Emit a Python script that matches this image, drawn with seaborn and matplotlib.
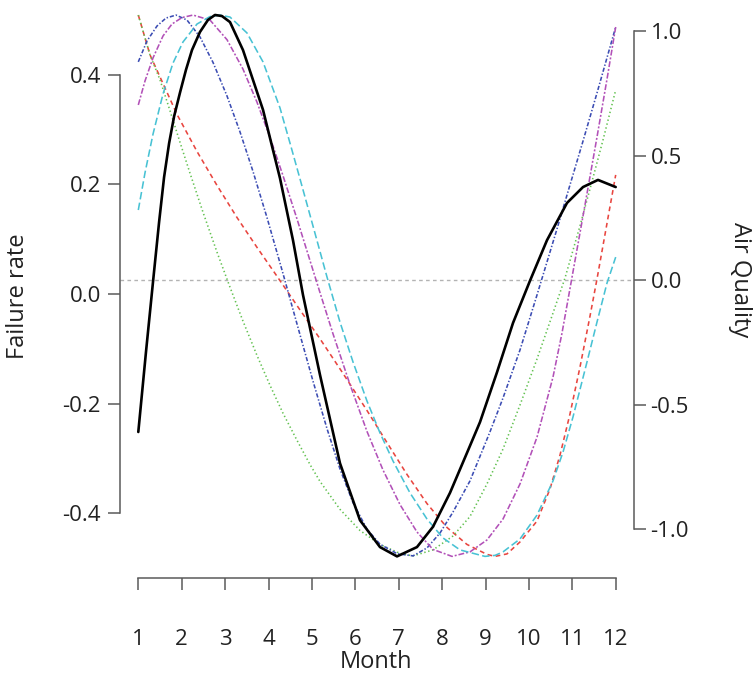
import matplotlib
matplotlib.use("Agg")
import matplotlib.pyplot as plt
import seaborn as sns
import pandas as pd

# ---------------- data ----------------
fr_month = [1.0, 1.177, 1.339, 1.479, 1.594, 1.71, 1.825, 1.963, 2.099, 2.237, 2.421, 2.606,
            2.767, 2.928, 3.113, 3.412, 3.873, 4.265, 4.564, 4.795, 5.187, 5.647, 6.108,
            6.569, 6.961, 7.421, 7.79, 8.182, 8.574, 8.873, 9.265, 9.634, 10.025, 10.417,
            10.878, 11.247, 11.592, 12.0]
failure_rate = [-0.252, -0.106, 0.022, 0.131, 0.213, 0.275, 0.324, 0.368, 0.409, 0.445, 0.478,
                0.5, 0.509, 0.507, 0.496, 0.445, 0.336, 0.211, 0.098, -0.002, -0.148, -0.309,
                -0.413, -0.462, -0.479, -0.462, -0.425, -0.363, -0.29, -0.234, -0.143, -0.053,
                0.024, 0.098, 0.166, 0.195, 0.208, 0.195]

red_month = [1.0, 1.27, 1.569, 1.892, 2.353, 2.813, 3.274, 3.735, 4.196, 4.725, 5.186, 5.716,
             6.269, 6.73, 7.191, 7.652, 8.113, 8.573, 9.034, 9.219, 9.495, 9.795, 10.187,
             10.486, 10.717, 10.947, 11.178, 11.408, 11.569, 12.0]
red_aq = [1.064, 0.904, 0.789, 0.665, 0.516, 0.38, 0.251, 0.131, 0.015, -0.12, -0.236, -0.375,
          -0.524, -0.653, -0.781, -0.898, -0.994, -1.062, -1.102, -1.11, -1.1, -1.052, -0.968,
          -0.839, -0.703, -0.538, -0.349, -0.145, 0.004, 0.422]

green_month = [1.0, 1.27, 1.5, 1.73, 1.961, 2.191, 2.491, 2.813, 3.113, 3.412, 3.735, 4.035,
               4.334, 4.657, 4.956, 5.187, 5.647, 6.108, 6.569, 7.03, 7.329, 7.79, 8.251,
               8.642, 9.034, 9.403, 9.795, 10.187, 10.555, 10.832, 11.177, 11.476, 11.707, 12.0]
green_aq = [1.064, 0.904, 0.804, 0.68, 0.553, 0.429, 0.272, 0.112, -0.029, -0.165, -0.303,
            -0.423, -0.535, -0.644, -0.741, -0.809, -0.921, -1.006, -1.062, -1.098, -1.108,
            -1.084, -1.028, -0.95, -0.819, -0.679, -0.502, -0.317, -0.133, 0.008, 0.217, 0.41,
            0.562, 0.763]

blue_month = [1.0, 1.2, 1.431, 1.638, 1.869, 2.122, 2.422, 2.721, 3.044, 3.343, 3.643, 3.965,
              4.334, 4.565, 4.795, 5.025, 5.348, 5.647, 5.947, 6.269, 6.569, 6.961, 7.329,
              7.652, 7.952, 8.251, 8.642, 9.103, 9.403, 9.795, 10.187, 10.647, 10.947, 11.247,
              11.569, 12.0]
blue_aq = [0.876, 0.96, 1.02, 1.052, 1.064, 1.044, 0.976, 0.874, 0.739, 0.595, 0.436, 0.251,
           0.026, -0.119, -0.263, -0.406, -0.597, -0.759, -0.894, -1.001, -1.061, -1.099,
           -1.108, -1.076, -1.016, -0.932, -0.807, -0.61, -0.474, -0.281, -0.06, 0.205, 0.382,
           0.558, 0.751, 1.016]

magenta_month = [1.0, 1.154, 1.339, 1.569, 1.776, 2.007, 2.26, 2.652, 3.044, 3.412, 3.735,
                 4.035, 4.334, 4.657, 4.956, 5.117, 5.256, 5.486, 5.878, 6.269, 6.638, 7.03,
                 7.421, 7.79, 8.228, 8.642, 9.034, 9.403, 9.795, 10.187, 10.555, 10.763,
                 10.982, 11.247, 11.569, 11.8, 12.0]
magenta_aq = [0.703, 0.799, 0.892, 0.98, 1.028, 1.054, 1.064, 1.044, 0.965, 0.847, 0.714, 0.573,
              0.419, 0.245, 0.078, -0.012, -0.089, -0.216, -0.42, -0.608, -0.763, -0.902,
              -1.012, -1.082, -1.11, -1.092, -1.044, -0.96, -0.819, -0.631, -0.39, -0.213, 0.0,
              0.257, 0.574, 0.807, 1.016]

cyan_month = [1.0, 1.154, 1.339, 1.569, 1.799, 2.03, 2.353, 2.652, 2.882, 3.113, 3.505, 3.873,
              4.265, 4.495, 4.726, 5.025, 5.348, 5.647, 5.947, 6.269, 6.569, 6.869, 7.26,
              7.652, 8.021, 8.412, 8.988, 9.219, 9.403, 9.795, 10.187, 10.555, 10.786, 11.016,
              11.339, 11.569, 11.8, 12.0]
cyan_aq = [0.281, 0.43, 0.586, 0.747, 0.871, 0.956, 1.028, 1.058, 1.064, 1.056, 0.992, 0.876,
           0.691, 0.55, 0.406, 0.217, 0.012, -0.169, -0.329, -0.486, -0.614, -0.727, -0.855,
           -0.96, -1.036, -1.084, -1.11, -1.106, -1.092, -1.04, -0.944, -0.807, -0.691, -0.55,
           -0.329, -0.169, -0.012, 0.092]

month_ticks = list(range(1, 13))
month_labels = [str(m) for m in month_ticks]
fr_ticks = [-0.4, -0.2, 0.0, 0.2, 0.4]
fr_labels = ["-0.4", "-0.2", "0.0", "0.2", "0.4"]
aq_ticks = [-1.0, -0.5, 0.0, 0.5, 1.0]
aq_labels = ["-1.0", "-0.5", "0.0", "0.5", "1.0"]

# ---------------- style ----------------
sns.set_style("white")
plt.rcParams["font.family"] = ["Open Sans", "DejaVu Sans"]
plt.rcParams["lines.scale_dashes"] = False
plt.rcParams["lines.solid_joinstyle"] = "round"
plt.rcParams["lines.dash_joinstyle"] = "round"

AXIS_COL = "#5a5a5a"
TEXT_COL = "#222222"
TICK_FS = 16
LABEL_FS = 17

fig = plt.figure(figsize=(7.56, 6.76), dpi=100)
W, H = 756, 676
L, R, T, B = 120, 634.5, 5, 578
ax = fig.add_axes([L / W, (H - B) / H, (R - L) / W, (B - T) / H])
ax2 = ax.twinx()

# axis scaling (pixel calibration)
x1_px, x_step = 138.3, 43.4
ax.set_xlim(1 + (L - x1_px) / x_step, 1 + (R - x1_px) / x_step)
fr0, fr_per = 293.9, 548.0
ax.set_ylim((fr0 - B) / fr_per, (fr0 - T) / fr_per)
aq0, aq_per = 280.0, 249.0
ax2.set_ylim((aq0 - B) / aq_per, (aq0 - T) / aq_per)

# reference zero line
ax2.axhline(0.0, color="#b3b3b3", lw=1.0, linestyle=(0, (2.6, 2.4)), zorder=1)

series = [
    (red_month, red_aq, "#e8453f", (0, (3.4, 2.6))),
    (green_month, green_aq, "#62c150", (0, (1.0, 1.9))),
    (blue_month, blue_aq, "#3b4cb3", (0, (3.0, 1.4, 1.0, 1.4))),
    (magenta_month, magenta_aq, "#b251b8", (0, (4.2, 1.4, 1.4, 1.4))),
    (cyan_month, cyan_aq, "#48c2d4", (0, (5.4, 2.4))),
]
for mm, vals, col, ls in series:
    df = pd.DataFrame({"Month": mm, "AQ": vals})
    sns.lineplot(data=df, x="Month", y="AQ", ax=ax2, color=col, linestyle=ls,
                 lw=1.15, estimator=None, errorbar=None, sort=True)

df_fr = pd.DataFrame({"Month": fr_month, "Failure rate": failure_rate})
sns.lineplot(data=df_fr, x="Month", y="Failure rate", ax=ax, color="black", lw=1.9,
             estimator=None, errorbar=None, sort=True)

ax.set_zorder(ax2.get_zorder() + 1)
ax.patch.set_visible(False)

for s in ["top", "right"]:
    ax.spines[s].set_visible(False)
for s in ["top", "left", "bottom"]:
    ax2.spines[s].set_visible(False)
ax.spines["left"].set_bounds(-0.4, 0.4)
ax.spines["bottom"].set_bounds(1, 12)
ax2.spines["right"].set_bounds(-1.0, 1.0)
for sp in [ax.spines["left"], ax.spines["bottom"], ax2.spines["right"]]:
    sp.set_color(AXIS_COL)
    sp.set_linewidth(1.1)

ax.set_xticks(month_ticks)
ax.set_xticklabels(month_labels)
ax.set_yticks(fr_ticks)
ax.set_yticklabels(fr_labels)
ax2.set_yticks(aq_ticks)
ax2.set_yticklabels(aq_labels)

ax.tick_params(axis="x", direction="out", length=8.6, width=1.1, color=AXIS_COL,
               labelsize=TICK_FS, labelcolor=TEXT_COL, pad=28, bottom=True)
ax.tick_params(axis="y", direction="out", length=8.6, width=1.1, color=AXIS_COL,
               labelsize=TICK_FS, labelcolor=TEXT_COL, pad=5, left=True)
ax2.tick_params(axis="y", direction="out", length=8.6, width=1.1, color=AXIS_COL,
                labelsize=TICK_FS, labelcolor=TEXT_COL, pad=3, right=True)

ax.set_xlabel("Month", fontsize=LABEL_FS, color=TEXT_COL)
ax.set_ylabel("Failure rate", fontsize=LABEL_FS, color=TEXT_COL)
ax2.set_ylabel("Air Quality", fontsize=LABEL_FS, color=TEXT_COL, rotation=-90)
ax.xaxis.label.set_va("center")
ax.yaxis.label.set_va("center")
ax2.yaxis.label.set_va("center")
ax.xaxis.set_label_coords((376 - L) / (R - L), (B - 662.5) / (B - T))
ax.yaxis.set_label_coords((18 - L) / (R - L), (B - 296) / (B - T))
ax2.yaxis.set_label_coords((740 - L) / (R - L), (B - 280) / (B - T))

ax.grid(False)
ax2.grid(False)

fig.savefig("out.png", dpi=100)
